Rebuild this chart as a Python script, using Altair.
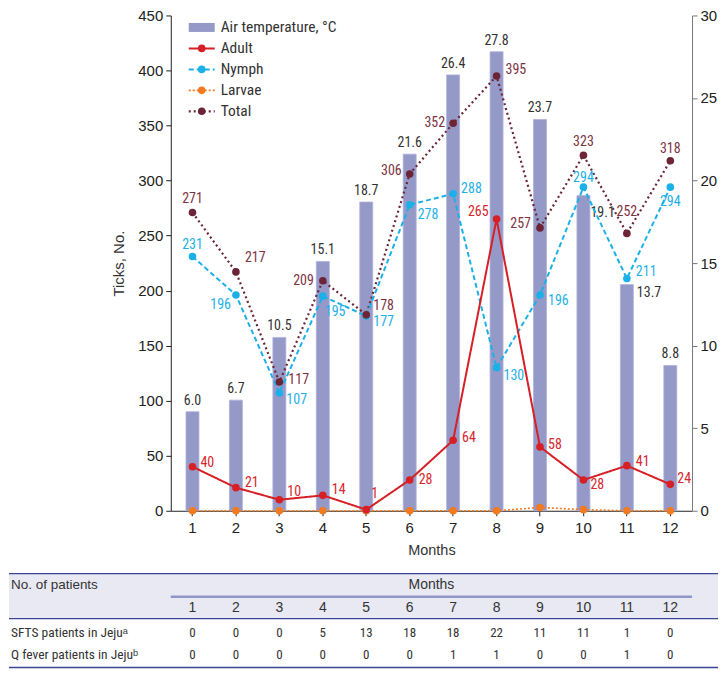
import altair as alt
import pandas as pd

# ---------------- data ----------------
months = list(range(1, 13))
air_temp = [6.0, 6.7, 10.5, 15.1, 18.7, 21.6, 26.4, 27.8, 23.7, 19.1, 13.7, 8.8]
adult = [40, 21, 10, 14, 1, 28, 64, 265, 58, 28, 41, 24]
nymph = [231, 196, 107, 195, 177, 278, 288, 130, 196, 294, 211, 294]
larvae = [0, 0, 0, 0, 0, 0, 0, 0, 3, 1, 0, 0]
total = [271, 217, 117, 209, 178, 306, 352, 395, 257, 323, 252, 318]
sfts_patients = [0, 0, 0, 5, 13, 18, 18, 22, 11, 11, 1, 0]
qfever_patients = [0, 0, 0, 0, 0, 0, 1, 1, 0, 0, 1, 0]

series_names = ["Total", "Nymph", "Adult", "Larvae"]
series_values = {"Adult": adult, "Nymph": nymph, "Larvae": larvae, "Total": total}
legend_labels = ["Air temperature, °C", "Adult", "Nymph", "Larvae", "Total"]
row_labels = ["SFTS patients in Jejuᵃ", "Q fever patients in Jejuᵇ"]
table_title = "No. of patients"
table_header = "Months"

# ---------------- styles ----------------
W, H = 522, 496
BAR = "#9499c7"
COLORS = {"Adult": "#d71f26", "Nymph": "#1cb0e8", "Larvae": "#f47a20", "Total": "#6b2536"}
LABEL_COLORS = {"Adult": "#d7262c", "Nymph": "#1eb0e6", "Larvae": "#f47a20", "Total": "#7e3345"}
DASH = {"Adult": [1, 0], "Nymph": [5, 3], "Larvae": [2, 2], "Total": [2, 3]}
WIDTH = {"Adult": 2, "Nymph": 2, "Larvae": 1.6, "Total": 2.2}
NARROW = "Liberation Sans Narrow, Arial Narrow, Roboto Condensed, Liberation Sans"
SANS = "Liberation Sans, Arial, Helvetica"
NAVY = "#3a4594"

# label placements (align, dx, dy)
label_pos = {
    "Total": {1: ("center", 0, -13), 2: ("left", 9, -14), 3: ("left", 9, -2), 4: ("right", -9, 0),
              5: ("left", 7, -9), 6: ("right", -8, -3), 7: ("right", -8, 0), 8: ("left", 9, -6),
              9: ("right", -9, -4), 10: ("center", 0, -13), 11: ("center", 0, -21), 12: ("center", 0, -12)},
    "Nymph": {1: ("center", 0, -12), 2: ("right", -5, 10), 3: ("left", 7, 7), 4: ("left", 2, 16),
              5: ("left", 7, 6), 6: ("left", 8, 10), 7: ("left", 8, -5), 8: ("left", 7, 8),
              9: ("left", 8, 6), 10: ("center", 0, -9), 11: ("left", 9, -7), 12: ("center", 0, 15)},
    "Adult": {1: ("left", 8, -4), 2: ("left", 9, -5), 3: ("left", 8, -8), 4: ("left", 9, -5),
              5: ("left", 5, -16), 6: ("left", 9, 0), 7: ("left", 9, -2), 8: ("right", -8, -7),
              9: ("left", 8, -2), 10: ("left", 7, 5), 11: ("left", 9, -4), 12: ("left", 7, -5)},
}
temp_pos = {m: ("center", 0, -11) for m in months}
temp_pos[10] = ("left", 7, 18)
temp_pos[11] = ("left", 10, 8)

# ---------------- frames ----------------
temp_df = pd.DataFrame({"month": months, "temp": air_temp})
tick_df = pd.DataFrame(
    [{"month": m, "series": s, "value": v} for s in series_names for m, v in zip(months, series_values[s])]
)
legend_df = pd.DataFrame({"label": legend_labels})
table_df = pd.DataFrame({"month": months, "sfts": sfts_patients, "qfever": qfever_patients})
one = pd.DataFrame({"k": [0]})

X = alt.X(
    "month:O",
    scale=alt.Scale(type="band", domain=months, paddingInner=0, paddingOuter=0),
    axis=alt.Axis(title="Months", labelAngle=0, labelFont=SANS, labelFontSize=15, labelColor="#222",
                  titleFont=SANS, titleFontSize=14.5, titleFontWeight="normal", titleColor="#333",
                  domainColor="#222", tickColor="#222", tickSize=5, labelPadding=5, titlePadding=8,
                  grid=False),
)
Y_TEMP = alt.Y(
    "temp:Q",
    scale=alt.Scale(domain=[0, 30], nice=False),
    axis=alt.Axis(orient="right", values=[0, 5, 10, 15, 20, 25, 30], title=None, grid=False,
                  labelFont=SANS, labelFontSize=15, labelColor="#222", domainColor="#777",
                  tickColor="#777", tickSize=5, labelPadding=3),
)
Y_TICK = alt.Y(
    "value:Q",
    scale=alt.Scale(domain=[0, 450], nice=False),
    axis=alt.Axis(orient="left", values=list(range(0, 451, 50)), title="Ticks, No.", grid=False,
                  labelFont=SANS, labelFontSize=15, labelColor="#222", domainColor="#222",
                  tickColor="#222", tickSize=5, labelPadding=3, titleFont=SANS, titleFontSize=15,
                  titleFontWeight="normal", titleColor="#333", titlePadding=11),
)

# ---------------- temperature (right axis) ----------------
bars = alt.Chart(temp_df).mark_bar(size=13, color=BAR, stroke="#aeb2da", strokeWidth=0.8).encode(x=X, y=Y_TEMP)
temp_layers = [bars]
groups = {}
for m, p in temp_pos.items():
    groups.setdefault(p, []).append(m)
for (al, dx, dy), ms in groups.items():
    temp_layers.append(
        alt.Chart(temp_df).transform_filter(alt.FieldOneOfPredicate(field="month", oneOf=ms))
        .mark_text(align=al, baseline="middle", dx=dx, dy=dy, font=NARROW, fontSize=14, color="#333")
        .encode(x=X, y=Y_TEMP, text=alt.Text("temp:Q", format=".1f"))
    )
temp_group = alt.layer(*temp_layers)

# ---------------- ticks (left axis) ----------------
tick_layers = []
for s in series_names:
    tick_layers.append(
        alt.Chart(tick_df).transform_filter(alt.FieldEqualPredicate(field="series", equal=s))
        .mark_line(color=COLORS[s], strokeDash=DASH[s], strokeWidth=WIDTH[s])
        .encode(x=X, y=Y_TICK)
    )
for s in ["Larvae", "Adult", "Nymph", "Total"]:
    tick_layers.append(
        alt.Chart(tick_df).transform_filter(alt.FieldEqualPredicate(field="series", equal=s))
        .mark_point(filled=True, size=58, opacity=1, color=COLORS[s])
        .encode(x=X, y=Y_TICK)
    )
for s, pos in label_pos.items():
    g = {}
    for m, p in pos.items():
        g.setdefault(p, []).append(m)
    for (al, dx, dy), ms in g.items():
        tick_layers.append(
            alt.Chart(tick_df)
            .transform_filter(alt.FieldEqualPredicate(field="series", equal=s))
            .transform_filter(alt.FieldOneOfPredicate(field="month", oneOf=ms))
            .mark_text(align=al, baseline="middle", dx=dx, dy=dy, font=NARROW, fontSize=14,
                       color=LABEL_COLORS[s])
            .encode(x=X, y=Y_TICK, text="value:Q")
        )
tick_group = alt.layer(*tick_layers)

# ---------------- legend ----------------
Y_LEG = alt.Y("label:N", scale=alt.Scale(type="point", domain=legend_labels, range=[12, 96], padding=0), axis=None)
leg_layers = [
    alt.Chart(legend_df).transform_filter(alt.FieldEqualPredicate(field="label", equal=legend_labels[0]))
    .mark_rule(color=BAR, strokeWidth=9, strokeCap="butt")
    .encode(x=alt.value(18), x2=alt.value(44), y=Y_LEG)
]
for s in ["Adult", "Nymph", "Larvae", "Total"]:
    leg_layers.append(
        alt.Chart(legend_df).transform_filter(alt.FieldEqualPredicate(field="label", equal=s))
        .mark_rule(color=COLORS[s], strokeDash=DASH[s], strokeWidth=WIDTH[s])
        .encode(x=alt.value(18), x2=alt.value(44), y=Y_LEG)
    )
    leg_layers.append(
        alt.Chart(legend_df).transform_filter(alt.FieldEqualPredicate(field="label", equal=s))
        .mark_point(filled=True, size=58, opacity=1, color=COLORS[s])
        .encode(x=alt.value(31), y=Y_LEG)
    )
leg_layers.append(
    alt.Chart(legend_df).mark_text(align="left", baseline="middle", font=NARROW, fontSize=15.5, color="#333")
    .encode(x=alt.value(50), y=Y_LEG, text="label:N")
)
legend_group = alt.layer(*leg_layers)

# ---------------- table ----------------
TL, TR = -162, 548
table_layers = [
    alt.Chart(one).mark_rect(color="#e8e9f3").encode(x=alt.value(TL), x2=alt.value(TR), y=alt.value(559), y2=alt.value(604)),
    alt.Chart(one).mark_rule(color=NAVY, strokeWidth=1.4).encode(x=alt.value(TL), x2=alt.value(TR), y=alt.value(559)),
    alt.Chart(one).mark_rule(color=NAVY, strokeWidth=1.4).encode(x=alt.value(TL), x2=alt.value(TR), y=alt.value(604)),
    alt.Chart(one).mark_rule(color=NAVY, strokeWidth=1.4).encode(x=alt.value(TL), x2=alt.value(TR), y=alt.value(653)),
    alt.Chart(one).mark_rule(color="#9196c8", strokeWidth=2.5).encode(x=alt.value(0), x2=alt.value(522), y=alt.value(582)),
    alt.Chart(pd.DataFrame({"t": [table_title]})).mark_text(align="left", baseline="middle", font=SANS, fontSize=13.5, color="#333")
    .encode(x=alt.value(TL + 2), y=alt.value(570.5), text="t:N"),
    alt.Chart(pd.DataFrame({"t": [table_header]})).mark_text(align="center", baseline="middle", font=SANS, fontSize=14, color="#333")
    .encode(x=alt.value(W / 2), y=alt.value(570.5), text="t:N"),
    alt.Chart(table_df).mark_text(align="center", baseline="middle", font=SANS, fontSize=14, color="#333")
    .encode(x=X, y=alt.value(593), text="month:O"),
    alt.Chart(table_df).mark_text(align="center", baseline="middle", font=NARROW, fontSize=13, color="#333")
    .encode(x=X, y=alt.value(618.5), text="sfts:Q"),
    alt.Chart(table_df).mark_text(align="center", baseline="middle", font=NARROW, fontSize=13, color="#333")
    .encode(x=X, y=alt.value(640.5), text="qfever:Q"),
    alt.Chart(pd.DataFrame({"t": [row_labels[0]]})).mark_text(align="left", baseline="middle", font=NARROW, fontSize=13.5, color="#333")
    .encode(x=alt.value(TL + 2), y=alt.value(618.5), text="t:N"),
    alt.Chart(pd.DataFrame({"t": [row_labels[1]]})).mark_text(align="left", baseline="middle", font=NARROW, fontSize=13.5, color="#333")
    .encode(x=alt.value(TL + 2), y=alt.value(640.5), text="t:N"),
]

chart = (
    alt.layer(*table_layers, temp_group, tick_group, legend_group)
    .resolve_scale(y="independent")
    .properties(width=W, height=H, padding=0)
    .configure_view(stroke=None)
)

chart.save("out.html", embed_options={"renderer": "svg", "actions": False})
